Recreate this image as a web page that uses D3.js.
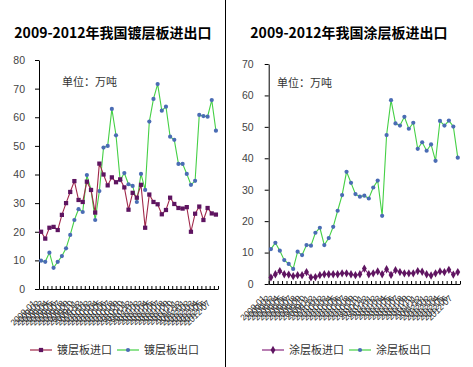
<!DOCTYPE html>
<html><head><meta charset="utf-8">
<script src="https://cdn.jsdelivr.net/npm/d3@7"></script>
<style>body{margin:0;background:#fff}svg{display:block}</style>
</head><body>
<svg id="c" width="473" height="367"></svg>
<script>
const months = ["2009-01","2009-02","2009-03","2009-04","2009-05","2009-06","2009-07","2009-08","2009-09","2009-10","2009-11","2009-12",
"2010-01","2010-02","2010-03","2010-04","2010-05","2010-06","2010-07","2010-08","2010-09","2010-10","2010-11","2010-12",
"2011-01","2011-02","2011-03","2011-04","2011-05","2011-06","2011-07","2011-08","2011-09","2011-10","2011-11","2011-12",
"2012-01","2012-02","2012-03","2012-04","2012-05","2012-06","2012-07"];
const galvImport = [20.0,17.6,21.4,21.7,20.6,25.9,30.0,33.9,37.7,31.1,30.4,37.5,34.6,26.7,43.8,40.0,36.2,39.0,37.3,38.3,35.5,27.7,33.6,31.9,36.4,21.4,33.0,30.4,29.6,26.1,27.6,31.9,29.7,28.3,28.1,28.6,20.0,26.3,28.8,24.1,28.3,26.4,26.0];
const galvExport = [9.9,9.5,12.7,7.4,9.5,11.5,14.2,18.9,24.1,27.9,26.9,39.8,34.6,24.1,34.2,49.4,50.0,62.9,53.7,38.0,40.5,36.6,36.0,30.4,40.2,34.6,58.5,66.4,71.6,62.3,63.7,53.2,52.1,43.7,43.7,40.2,36.4,37.8,60.8,60.4,60.2,66.0,55.3];
const coatImport = [2.1,3.1,4.1,3.1,3.0,2.5,2.8,2.8,3.8,2.1,2.2,2.8,3.1,3.1,3.1,3.1,3.4,3.4,3.1,2.8,3.1,4.9,3.1,3.4,4.0,3.1,4.7,2.9,4.4,3.8,3.4,3.4,3.4,4.1,3.9,3.1,2.7,3.4,4.0,3.8,4.5,3.0,3.8];
const coatExport = [11.1,13.1,10.6,7.6,6.4,4.8,10.3,9.2,12.4,12.2,16.3,17.9,12.4,14.6,18.2,23.3,28.3,35.7,32.2,28.6,27.8,28.1,27.2,30.7,32.9,21.7,47.4,58.5,51.1,50.4,53.2,49.4,51.3,43.0,45.1,42.4,44.4,39.2,51.9,50.4,52.0,50.1,40.2];
const leftTicks = [0,10,20,30,40,50,60,70,80];
const rightTicks = [0,10,20,30,40,50,60,70];
const titles = ["2009-2012年我国镀层板进出口","2009-2012年我国涂层板进出口"];
const unitText = "单位：万吨";
const legendLeft = ["镀层板进口","镀层板出口"];
const legendRight = ["涂层板进口","涂层板出口"];

const svg = d3.select("#c");
const impLineL = "#A0284A", impMark = "#5E1460", impLineR = "#8A2A80";
const expLine = "#45D045", expMark = "#4A6CB4";
const fontCJK = "'Noto Sans CJK SC','Noto Sans',sans-serif";

// separator
svg.append("line").attr("x1",225.5).attr("x2",225.5).attr("y1",0).attr("y2",367).attr("stroke","#000").attr("stroke-width",1);

function panel(o){
  const g = svg.append("g");
  const n = months.length;
  const xl = d3.scaleLinear().domain([0,n]).range([o.x0,o.x1]);
  const y = d3.scaleLinear().domain([0,o.ymax]).range([o.yb,o.yt]);
  // title
  g.append("text").attr("x",o.tx).attr("y",38).attr("text-anchor","middle")
    .attr("font-family",fontCJK).attr("font-weight","bold").attr("font-size",14).attr("fill","#000").text(o.title);
  // unit
  g.append("text").attr("x",o.ux).attr("y",o.uy).attr("font-family",fontCJK).attr("font-size",11).attr("fill","#333").text(unitText);
  // y axis
  const ya = g.append("g").attr("transform",`translate(${o.x0},0)`)
    .call(d3.axisLeft(y).tickValues(o.ticks).tickSize(4).tickPadding(o.tp).tickSizeOuter(0));
  ya.select(".domain").attr("stroke","#000");
  ya.selectAll("line").attr("stroke","#000");
  ya.selectAll("text").attr("font-family","'Liberation Sans',Arial,sans-serif").attr("font-size",10.5).attr("fill","#444");
  // x axis
  const xa = g.append("g").attr("transform",`translate(0,${o.yb})`)
    .call(d3.axisBottom(xl).tickValues(d3.range(n+1)).tickSize(-3).tickSizeOuter(0).tickFormat(""));
  xa.select(".domain").attr("stroke","#000");
  xa.selectAll("line").attr("stroke","#000");
  // x labels
  g.append("g").selectAll("text").data(months).join("text")
    .attr("transform",(d,i)=>`translate(${xl(i+0.5)-5},${o.yb+15}) rotate(-45)`)
    .attr("text-anchor","end").attr("font-family","'Liberation Sans',Arial,sans-serif")
    .attr("font-size",8.5).attr("fill","#222").text(d=>d);
  const line = d3.line().x((d,i)=>xl(i+0.5)).y(d=>y(d));
  // export
  g.append("path").datum(o.exp).attr("d",line).attr("fill","none").attr("stroke",expLine).attr("stroke-width",1.1);
  g.append("g").selectAll("circle").data(o.exp).join("circle")
    .attr("cx",(d,i)=>xl(i+0.5)).attr("cy",d=>y(d)).attr("r",2.1).attr("fill",expMark);
  // import
  g.append("path").datum(o.imp).attr("d",line).attr("fill","none").attr("stroke",o.impLine).attr("stroke-width",1.1);
  const sym = d3.symbol().type(o.square?d3.symbolSquare:d3.symbolDiamond).size(o.square?18:20);
  g.append("g").selectAll("path").data(o.imp).join("path")
    .attr("transform",(d,i)=>`translate(${xl(i+0.5)},${y(d)})`).attr("d",sym).attr("fill",impMark);
  // legend
  const ly = 350;
  const lg = g.append("g");
  lg.append("line").attr("x1",o.lx[0]).attr("x2",o.lx[0]+22).attr("y1",ly).attr("y2",ly).attr("stroke",o.impLine).attr("stroke-width",1.2);
  lg.append("path").attr("transform",`translate(${o.lx[0]+11},${ly})`).attr("d",sym).attr("fill",impMark);
  lg.append("text").attr("x",o.lx[0]+27).attr("y",ly+4).attr("font-family",fontCJK).attr("font-size",11).attr("fill","#333").text(o.leg[0]);
  lg.append("line").attr("x1",o.lx[1]).attr("x2",o.lx[1]+22).attr("y1",ly).attr("y2",ly).attr("stroke",expLine).attr("stroke-width",1.2);
  lg.append("circle").attr("cx",o.lx[1]+11).attr("cy",ly).attr("r",2.1).attr("fill",expMark);
  lg.append("text").attr("x",o.lx[1]+27).attr("y",ly+4).attr("font-family",fontCJK).attr("font-size",11).attr("fill","#333").text(o.leg[1]);
}

panel({x0:39,x1:218,yb:289,yt:60,ymax:80,ticks:leftTicks,tp:10,title:titles[0],tx:113,ux:62,uy:86,
  imp:galvImport,exp:galvExport,impLine:impLineL,square:true,lx:[30,117],leg:legendLeft});
panel({x0:268.7,x1:460,yb:284,yt:64,ymax:70,ticks:rightTicks,tp:11,title:titles[1],tx:349,ux:277,uy:87,
  imp:coatImport,exp:coatExport,impLine:impLineR,square:false,lx:[262,349],leg:legendRight});
</script>
</body></html>
